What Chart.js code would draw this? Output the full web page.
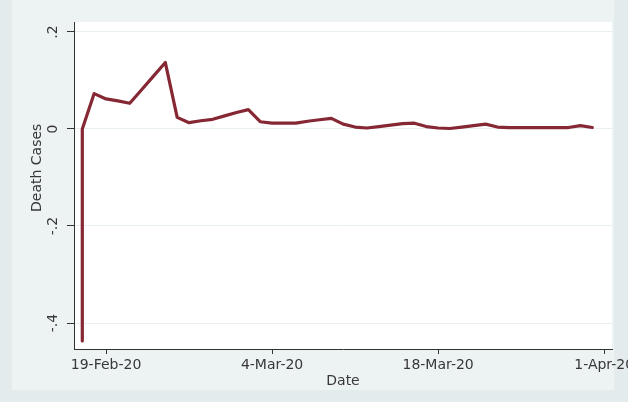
<!DOCTYPE html>
<html>
<head>
<meta charset="utf-8">
<script src="https://cdn.jsdelivr.net/npm/chart.js@4/dist/chart.umd.min.js"></script>
<style>
  html, body { margin: 0; padding: 0; background: #e4ebec; }
  #wrap { width: 628px; height: 402px; }
</style>
</head>
<body>
<div id="wrap"><canvas id="c" width="628" height="402"></canvas></div>
<script>
// Day offsets from 19-Feb-20 and the daily death-case series
const days = [-2, -2, -1, 0, 1, 2, 3, 4, 5, 6, 7, 8, 9, 10, 11, 12, 13, 14, 15, 16, 17, 18, 19, 20,
  21, 22, 23, 24, 25, 26, 27, 28, 29, 30, 31, 32, 33, 34, 35, 36, 37, 38, 39, 40, 41];
const deathCases = [-0.437, 0.0, 0.073, 0.062, 0.058, 0.053, 0.081, 0.109, 0.137, 0.024, 0.013, 0.017,
  0.020, 0.027, 0.034, 0.040, 0.015, 0.012, 0.012, 0.012, 0.016, 0.019, 0.022, 0.010,
  0.004, 0.002, 0.005, 0.008, 0.011, 0.012, 0.005, 0.002, 0.001, 0.004, 0.007, 0.010,
  0.004, 0.003, 0.003, 0.003, 0.003, 0.003, 0.003, 0.007, 0.003];

const xTickDays = [0, 14, 28, 42];
const xTickLabels = ['19-Feb-20', '4-Mar-20', '18-Mar-20', '1-Apr-20'];
const yTickValues = [-0.4, -0.2, 0, 0.2];
const yTickLabels = ['-.4', '-.2', '0', '.2'];
const yTitle = 'Death Cases';
const xTitle = 'Date';

const points = days.map((d, i) => ({ x: d, y: deathCases[i] }));

const fontFamily = "'DejaVu Sans', 'Liberation Sans', Arial, sans-serif";
const font = { family: fontFamily, size: 14 };
const textColor = '#383838';

// Light graph region, white plot region
const regionFill = {
  id: 'regionFill',
  beforeDraw(chart) {
    const { ctx, chartArea: a } = chart;
    ctx.save();
    ctx.fillStyle = '#e4ebec';
    ctx.fillRect(0, 0, chart.width, chart.height);
    ctx.fillStyle = '#edf2f3';
    ctx.fillRect(12, 0, 602, 390);
    ctx.fillStyle = '#ffffff';
    ctx.fillRect(a.left, a.top, a.right - a.left, a.bottom - a.top);
    ctx.restore();
  }
};

// Rotated y-axis title, set a little above the middle of the axis
const yAxisTitle = {
  id: 'yAxisTitle',
  afterDraw(chart) {
    const { ctx, scales: { y } } = chart;
    const cy = y.getPixelForValue(-0.08);
    ctx.save();
    ctx.translate(37.5, cy);
    ctx.rotate(-Math.PI / 2);
    ctx.font = `${font.size}px ${fontFamily}`;
    ctx.fillStyle = textColor;
    ctx.textAlign = 'center';
    ctx.textBaseline = 'middle';
    ctx.fillText(yTitle, 0, 0);
    ctx.restore();
  }
};

new Chart(document.getElementById('c'), {
  type: 'line',
  data: {
    datasets: [{
      data: points,
      borderColor: '#862834',
      borderWidth: 3.2,
      pointRadius: 0,
      tension: 0,
      borderJoinStyle: 'round',
      borderCapStyle: 'round'
    }]
  },
  options: {
    responsive: false,
    animation: false,
    layout: { padding: { top: 22, right: 16, left: 0, bottom: 0 } },
    plugins: { legend: { display: false }, tooltip: { enabled: false } },
    scales: {
      x: {
        type: 'linear',
        min: -2.7,
        max: 42.66,
        afterBuildTicks(s) { s.ticks = xTickDays.map(v => ({ value: v })); },
        afterFit(s) { s.height = 53; s.paddingLeft = 0; s.paddingRight = 0; },
        ticks: {
          autoSkip: false,
          maxRotation: 0,
          minRotation: 0,
          padding: 3,
          color: textColor,
          font,
          callback: (v, i) => xTickLabels[i]
        },
        grid: { display: true, drawOnChartArea: false, drawTicks: true, tickLength: 5, tickColor: '#333', tickWidth: 1 },
        border: { display: true, color: '#333', width: 1 },
        title: { display: true, text: xTitle, color: textColor, font, padding: { top: 0, bottom: 12 } }
      },
      y: {
        min: -0.4536,
        max: 0.2206,
        afterBuildTicks(s) { s.ticks = yTickValues.map(v => ({ value: v })); },
        afterFit(s) { s.width = 74; s.paddingTop = 0; s.paddingBottom = 0; },
        ticks: {
          autoSkip: false,
          minRotation: 90,
          maxRotation: 90,
          crossAlign: 'center',
          padding: 4,
          color: textColor,
          font,
          callback: (v, i) => yTickLabels[i]
        },
        grid: { display: true, drawOnChartArea: true, color: '#e8eff1', lineWidth: 1, drawTicks: true, tickLength: 7, tickColor: '#333', tickWidth: 1 },
        border: { display: true, color: '#333', width: 1 },
        title: { display: false }
      }
    }
  },
  plugins: [regionFill, yAxisTitle]
});
</script>
</body>
</html>
